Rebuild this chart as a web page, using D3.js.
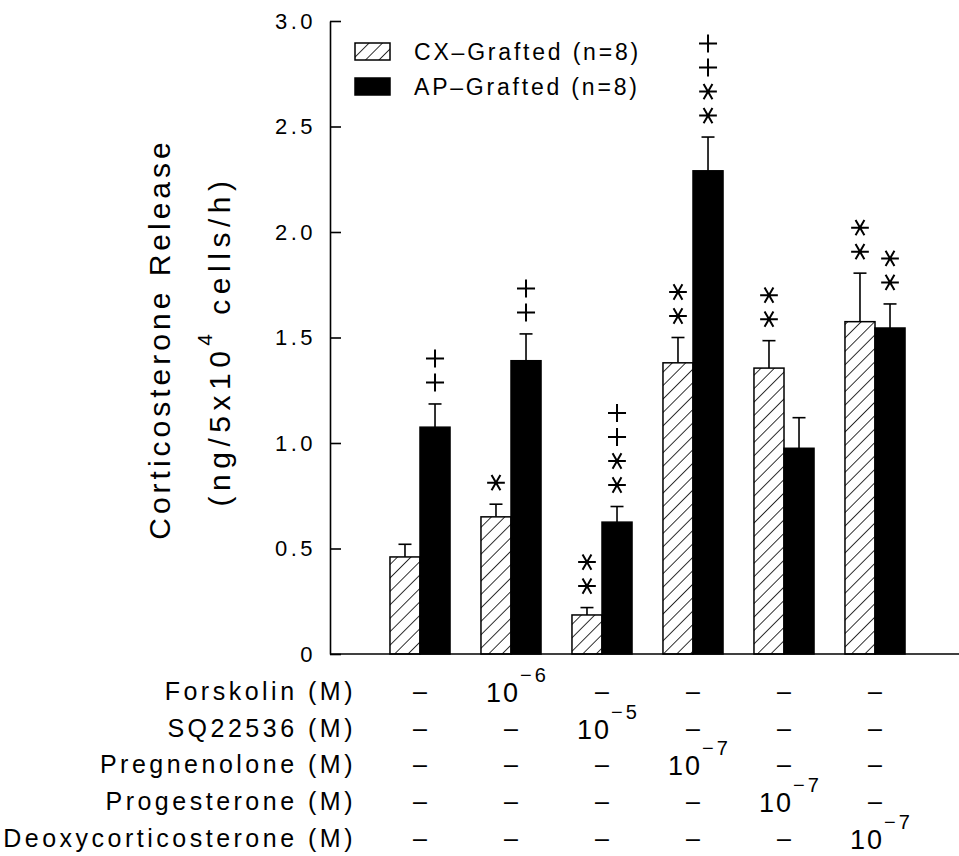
<!DOCTYPE html>
<html>
<head>
<meta charset="utf-8">
<script src="https://cdn.jsdelivr.net/npm/d3@7"></script>
<style>
    body { margin: 0; background: #fff; }
    text { font-family: 'Liberation Sans', Arial, sans-serif; fill: #000; }
</style>
</head>
<body>
<svg id="chart"></svg>
<script>
// Six treatment groups, two graft types
const GROUPS = ['control', 'forskolin', 'sq22536', 'pregnenolone', 'progesterone', 'deoxycorticosterone'];
const SERIES = ['CX\u2013Grafted (n=8)', 'AP\u2013Grafted (n=8)'];

const CX_VALUES = [0.46, 0.65, 0.185, 1.38, 1.355, 1.575];
const CX_ERRORS = [0.06, 0.06, 0.035, 0.12, 0.13, 0.23];
const AP_VALUES = [1.075, 1.39, 0.625, 2.29, 0.975, 1.545];
const AP_ERRORS = [0.11, 0.127, 0.074, 0.16, 0.145, 0.114];

// significance marks, top to bottom
const CX_MARKS = ['', '*', '**', '**', '**', '**'];
const AP_MARKS = ['++', '++', '++**', '++**', '', '**'];

const Y_TICKS = [0, 0.5, 1.0, 1.5, 2.0, 2.5, 3.0];

// treatment table under the x axis
const TREATMENTS = ['Forskolin (M)', 'SQ22536 (M)', 'Pregnenolone (M)', 'Progesterone (M)', 'Deoxycorticosterone (M)'];
const DOSE_GROUP = [1, 2, 3, 4, 5];
const DOSE_EXP = ['\u22126', '\u22125', '\u22127', '\u22127', '\u22127'];

const width = 959;
const height = 856;
const axisX = 330;

const svg = d3.select('#chart')
    .attr('width', width)
    .attr('height', height);

svg.append('rect').attr('width', width).attr('height', height).attr('fill', '#fff');

const defs = svg.append('defs');
defs.append('pattern')
    .attr('id', 'hatch')
    .attr('patternUnits', 'userSpaceOnUse')
    .attr('width', 9.5)
    .attr('height', 9.5)
    .attr('patternTransform', 'rotate(45)')
    .call(p => {
        p.append('rect').attr('width', 9.5).attr('height', 9.5).attr('fill', '#fff');
        p.append('line')
            .attr('x1', 0).attr('y1', 0).attr('x2', 0).attr('y2', 9.5)
            .attr('stroke', '#000').attr('stroke-width', 1.6);
    });

const y = d3.scaleLinear().domain([0, 3]).range([654, 21]);

const x0 = d3.scaleBand()
    .domain(GROUPS)
    .range([374.5, 920.5])
    .paddingInner(0.34)
    .paddingOuter(0.17);

const x1 = d3.scaleBand()
    .domain(SERIES)
    .range([0, x0.bandwidth()]);

const bars = [];
GROUPS.forEach((g, i) => {
    bars.push({ group: g, series: SERIES[0], value: CX_VALUES[i], err: CX_ERRORS[i], marks: CX_MARKS[i] });
    bars.push({ group: g, series: SERIES[1], value: AP_VALUES[i], err: AP_ERRORS[i], marks: AP_MARKS[i] });
});

const fillFor = s => s === SERIES[0] ? 'url(#hatch)' : '#000';
const barCenter = d => x0(d.group) + x1(d.series) + x1.bandwidth() / 2;

// error bars first so the bar covers the lower part
const errG = svg.append('g').attr('stroke', '#000').attr('stroke-width', 1.6);
errG.selectAll('line.stem')
    .data(bars)
    .join('line')
    .attr('class', 'stem')
    .attr('x1', barCenter).attr('x2', barCenter)
    .attr('y1', d => y(d.value)).attr('y2', d => y(d.value + d.err));
errG.selectAll('line.cap')
    .data(bars)
    .join('line')
    .attr('class', 'cap')
    .attr('x1', d => barCenter(d) - 6.5).attr('x2', d => barCenter(d) + 6.5)
    .attr('y1', d => y(d.value + d.err)).attr('y2', d => y(d.value + d.err));

svg.append('g').selectAll('rect')
    .data(bars)
    .join('rect')
    .attr('x', d => x0(d.group) + x1(d.series))
    .attr('y', d => y(d.value))
    .attr('width', x1.bandwidth())
    .attr('height', d => y(0) - y(d.value))
    .attr('fill', d => fillFor(d.series))
    .attr('stroke', '#000')
    .attr('stroke-width', 1.5);

// + and * marks above the error bars
const plus = d3.symbol().type(d3.symbolPlus).size(108)();
const star = d3.symbol().type(d3.symbolAsterisk).size(221)();
const marks = [];
bars.forEach(d => {
    const chars = d.marks.split('').reverse();
    chars.forEach((c, j) => marks.push({ bar: d, c, j }));
});
svg.append('g').selectAll('path')
    .data(marks)
    .join('path')
    .attr('d', m => m.c === '+' ? plus : star)
    .attr('transform', m => {
        const cy = y(m.bar.value + m.bar.err) - 21.5 - 24 * m.j;
        return `translate(${barCenter(m.bar)},${cy})` + (m.c === '*' ? ' rotate(90)' : '');
    })
    .attr('fill', 'none')
    .attr('stroke', '#000')
    .attr('stroke-width', 2);

// y axis, ticks point inward
const yAxis = d3.axisLeft(y)
    .tickValues(Y_TICKS)
    .tickFormat(d => d === 0 ? '0' : d3.format('.1f')(d))
    .tickSizeInner(-11)
    .tickSizeOuter(0)
    .tickPadding(14);

const yG = svg.append('g')
    .attr('transform', `translate(${axisX},0)`)
    .call(yAxis);
yG.select('.domain').attr('stroke-width', 1.6);
yG.selectAll('.tick line').attr('stroke-width', 1.6);
yG.selectAll('.tick text')
    .attr('font-family', "'Liberation Sans', Arial, sans-serif")
    .attr('font-size', 22)
    .attr('letter-spacing', 3.5);

// baseline
svg.append('line')
    .attr('x1', axisX).attr('x2', width)
    .attr('y1', y(0)).attr('y2', y(0))
    .attr('stroke', '#000')
    .attr('stroke-width', 1.6);

// y axis title
svg.append('text')
    .attr('transform', 'translate(170,339) rotate(-90)')
    .attr('text-anchor', 'middle')
    .attr('font-size', 30)
    .attr('letter-spacing', 4)
    .text('Corticosterone Release');

const yTitle2 = svg.append('text')
    .attr('transform', 'translate(230,341) rotate(-90)')
    .attr('text-anchor', 'middle')
    .attr('font-size', 30)
    .attr('letter-spacing', 5.5);
yTitle2.append('tspan').text('(ng/5x10');
yTitle2.append('tspan').attr('font-size', 21).attr('dy', -18).text('4');
yTitle2.append('tspan').attr('dy', 18).text(' cells/h)');

// legend
const legend = svg.append('g');
SERIES.forEach((s, i) => {
    const row = legend.append('g').attr('transform', `translate(355,${43 + i * 35})`);
    row.append('rect')
        .attr('width', 35).attr('height', 17)
        .attr('fill', fillFor(s))
        .attr('stroke', '#000').attr('stroke-width', 1.5);
    row.append('text')
        .attr('x', 59).attr('y', 17)
        .attr('font-size', 23)
        .attr('letter-spacing', 2.8)
        .text(s);
});

// treatment table
const rowY = i => 700 + i * 36.7;
const colX = g => x0(g) + x0.bandwidth() / 2;
const table = svg.append('g');
TREATMENTS.forEach((t, i) => {
    table.append('text')
        .attr('x', 356).attr('y', rowY(i))
        .attr('text-anchor', 'end')
        .attr('font-size', 25)
        .attr('letter-spacing', 3.5)
        .text(t);

    GROUPS.forEach((g, k) => {
        if (k === DOSE_GROUP[i]) {
            const dose = table.append('text')
                .attr('x', colX(g) - 25).attr('y', rowY(i) + 2)
                .attr('font-size', 27)
                .attr('letter-spacing', 2);
            dose.append('tspan').text('10');
            dose.append('tspan')
                .attr('font-size', 20)
                .attr('letter-spacing', 3)
                .attr('dy', -20)
                .text(DOSE_EXP[i]);
        } else {
            table.append('text')
                .attr('x', colX(g)).attr('y', rowY(i))
                .attr('text-anchor', 'middle')
                .attr('font-size', 25)
                .text('\u2013');
        }
    });
});
</script>
</body>
</html>
